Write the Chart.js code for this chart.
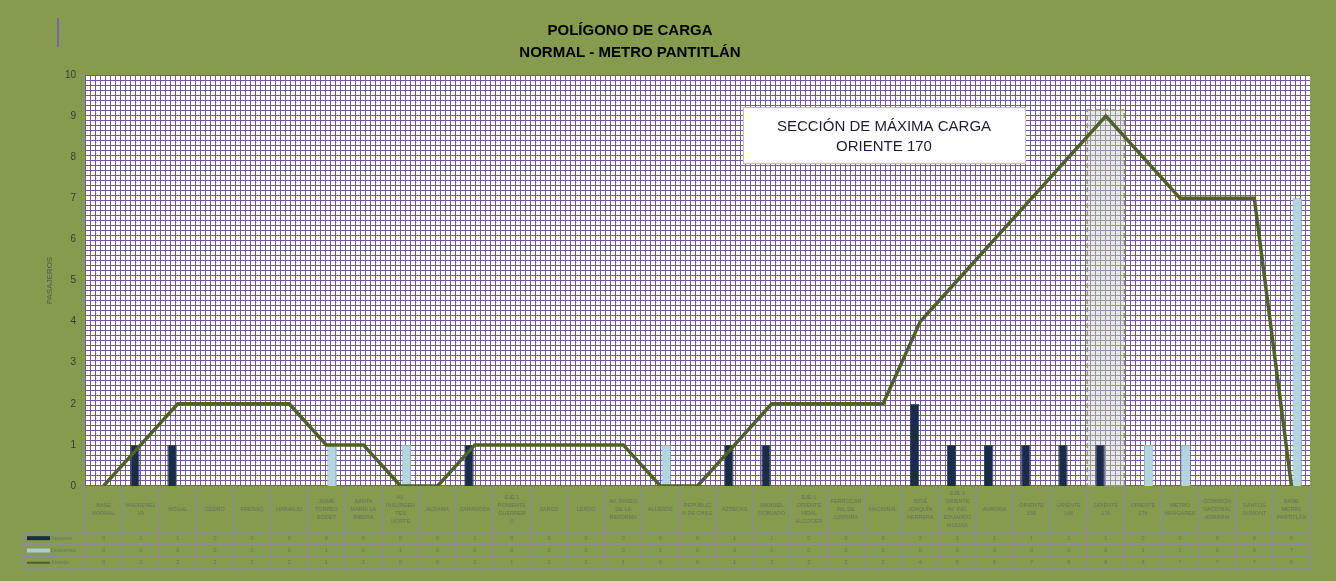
<!DOCTYPE html>
<html>
<head>
<meta charset="utf-8">
<script src="https://cdn.jsdelivr.net/npm/chart.js@4.4.1/dist/chart.umd.min.js"></script>
<style>
  html, body { margin: 0; padding: 0; background: #859c4f; }
  #wrap { width: 1336px; height: 581px; }
</style>
</head>
<body>
<div id="wrap"><canvas id="poligono" width="1336" height="581"></canvas></div>
<script>
// paradas de la ruta
const estaciones = [
  'BASE NORMAL', 'MADRESELVA', 'NOGAL', 'CEDRO', 'FRESNO', 'NARANJO',
  'JAIME TORRES BODET', 'SANTA MARÍA LA RIBERA', 'AV. INSURGENTES NORTE', 'ALDAMA',
  'ZARAGOZA', 'EJE 1 PONIENTE GUERRERO', 'ZARCO', 'LERDO', 'AV. PASEO DE LA REFORMA',
  'ALLENDE', 'REPÚBLICA DE CHILE', 'AZTECAS', 'MANUEL DOBLADO',
  'EJE 1 ORIENTE VIDAL ALCOCER', 'FERROCARRIL DE CINTURA', 'NACIONAL',
  'JOSÉ JOAQUÍN HERRERA', 'EJE 3 ORIENTE AV. ING. EDUARDO MOLINA', 'AURORA',
  'ORIENTE 158', 'ORIENTE 166', 'ORIENTE 170', 'ORIENTE 176', 'METRO HANGARES',
  'COMISIÓN NACIONAL AGRARIA', 'SANTOS DUMONT', 'BASE METRO PANTITLÁN'
];
const ascenso  = [0,1,1,0,0,0,0,0,0,0,1,0,0,0,0,0,0,1,1,0,0,0,2,1,1,1,1,1,0,0,0,0,0];
const descenso = [0,0,0,0,0,0,1,0,1,0,0,0,0,0,0,1,0,0,0,0,0,0,0,0,0,0,0,0,1,1,0,0,7];
const abordo   = [0,1,2,2,2,2,1,1,0,0,1,1,1,1,1,0,0,1,2,2,2,2,4,5,6,7,8,9,8,7,7,7,0];
const yMax = 10;
const titulo = ['POLÍGONO DE CARGA', 'NORMAL - METRO PANTITLÁN'];
const nota = ['SECCIÓN DE MÁXIMA CARGA', 'ORIENTE 170'];

const VERDE = '#859c4f';
const TEXTO_TABLA = '#6a7360';
const filas = [
  { nombre: 'Ascenso', datos: ascenso, color: '#1b2c4b', grueso: 4 },
  { nombre: 'Descenso', datos: descenso, color: '#a9cbd8', grueso: 4 },
  { nombre: 'Abordo', datos: abordo, color: '#4e6228', grueso: 2 }
];

// cuadricula morada del fondo del area de trazado
function patronCuadricula(ctx) {
  const c = document.createElement('canvas');
  c.width = 5; c.height = 5;
  const g = c.getContext('2d');
  g.fillStyle = '#ffffff';
  g.fillRect(0, 0, 5, 5);
  g.fillStyle = '#76599a';
  g.fillRect(0, 0, 5, 1);
  g.fillRect(0, 0, 1, 5);
  return ctx.createPattern(c, 'repeat');
}

function partirTexto(ctx, texto, ancho) {
  const lineas = [];
  let actual = '';
  texto.split(' ').forEach(pal => {
    const prueba = actual ? actual + ' ' + pal : pal;
    if (ctx.measureText(prueba).width <= ancho) { actual = prueba; return; }
    if (actual) lineas.push(actual);
    actual = '';
    // palabra demasiado larga: cortarla
    for (const ch of pal) {
      if (ctx.measureText(actual + ch).width > ancho && actual) { lineas.push(actual); actual = ch; }
      else actual += ch;
    }
  });
  if (actual) lineas.push(actual);
  return lineas;
}

const fondo = {
  id: 'fondo',
  beforeDraw(chart) {
    const { ctx, chartArea: a } = chart;
    ctx.save();
    ctx.fillStyle = VERDE;
    ctx.fillRect(0, 0, chart.width, chart.height);
    ctx.fillStyle = patronCuadricula(ctx);
    ctx.fillRect(a.left, a.top, a.right - a.left, a.bottom - a.top);
    // marca morada suelta arriba a la izquierda
    ctx.fillStyle = '#7f62b3';
    ctx.fillRect(57, 18, 2, 29);
    // titulo
    ctx.fillStyle = '#000';
    ctx.font = 'bold 15px "Liberation Sans", Arial, sans-serif';
    ctx.textAlign = 'center';
    ctx.textBaseline = 'middle';
    ctx.fillText(titulo[0], 630, 31);
    ctx.fillText(titulo[1], 630, 53);
    ctx.restore();
  },
  beforeDatasetsDraw(chart) {
    // seccion de maxima carga
    const { ctx, scales: { x, y } } = chart;
    const iMax = abordo.indexOf(Math.max(...abordo));
    const w = x.getPixelForValue(1) - x.getPixelForValue(0);
    const cx = x.getPixelForValue(iMax);
    const top = y.getPixelForValue(abordo[iMax]) - 6;
    const bot = y.getPixelForValue(0);
    ctx.save();
    ctx.fillStyle = 'rgba(200,208,186,0.45)';
    ctx.fillRect(cx - w / 2, top, w, bot - top);
    ctx.strokeStyle = '#8c9a63';
    ctx.lineWidth = 1.5;
    ctx.setLineDash([5, 3]);
    ctx.strokeRect(cx - w / 2, top, w, bot - top);
    ctx.restore();
  },
  afterDraw(chart) {
    const { ctx, chartArea: a, scales: { x } } = chart;
    const n = estaciones.length;
    const w = (a.right - a.left) / n;
    const top = a.bottom, cab = 46, alto = 12.3;
    const izq = 23;
    ctx.save();
    // cuadro de nota
    ctx.fillStyle = '#fff';
    ctx.fillRect(743, 107, 282, 56);
    ctx.strokeStyle = '#bdbdbd';
    ctx.lineWidth = 1;
    ctx.strokeRect(743.5, 107.5, 282, 56);
    ctx.fillStyle = '#1d1d3a';
    ctx.font = '15px "Liberation Sans", Arial, sans-serif';
    ctx.textAlign = 'center';
    ctx.textBaseline = 'middle';
    ctx.fillText(nota[0], 884, 127);
    ctx.fillText(nota[1], 884, 147);

    // tabla de datos
    ctx.strokeStyle = '#8d8d8d';
    ctx.lineWidth = 1.5;
    const fondoTabla = top + cab + alto * filas.length;
    for (let i = 0; i <= n; i++) {
      const px = a.left + i * w;
      ctx.beginPath(); ctx.moveTo(px, top); ctx.lineTo(px, fondoTabla); ctx.stroke();
    }
    ctx.beginPath(); ctx.moveTo(izq, top + cab); ctx.lineTo(izq, fondoTabla); ctx.stroke();
    for (let r = 0; r <= filas.length; r++) {
      const py = top + cab + r * alto;
      ctx.beginPath(); ctx.moveTo(izq, py); ctx.lineTo(a.right, py); ctx.stroke();
    }
    ctx.fillStyle = TEXTO_TABLA;
    ctx.font = '5.5px "Liberation Sans", Arial, sans-serif';
    estaciones.forEach((nom, i) => {
      const cx = x.getPixelForValue(i);
      const lineas = partirTexto(ctx, nom, w - 6);
      const y0 = top + cab / 2 - (lineas.length - 1) * 4;
      lineas.forEach((l, k) => ctx.fillText(l, cx, y0 + k * 8));
      filas.forEach((f, r) => ctx.fillText(String(f.datos[i]), cx, top + cab + r * alto + alto / 2));
    });
    filas.forEach((f, r) => {
      const py = top + cab + r * alto + alto / 2;
      ctx.strokeStyle = f.color;
      ctx.lineWidth = f.grueso;
      ctx.beginPath(); ctx.moveTo(27, py); ctx.lineTo(50, py); ctx.stroke();
      ctx.fillStyle = TEXTO_TABLA;
      ctx.textAlign = 'left';
      ctx.fillText(f.nombre, 51, py);
    });
    ctx.restore();
  }
};

new Chart(document.getElementById('poligono'), {
  type: 'bar',
  data: {
    labels: estaciones,
    datasets: [
      {
        type: 'line',
        label: 'Abordo',
        data: abordo,
        borderColor: '#4e6228',
        borderWidth: 3.5,
        pointRadius: 0,
        tension: 0,
        order: 0
      },
      {
        label: 'Ascenso',
        data: ascenso,
        backgroundColor: '#1b2c4b',
        borderColor: '#31466b',
        borderWidth: 1,
        categoryPercentage: 0.62,
        barPercentage: 0.82,
        order: 1
      },
      {
        label: 'Descenso',
        data: descenso,
        backgroundColor: '#b3d5df',
        borderColor: '#8db1bf',
        borderWidth: 1,
        categoryPercentage: 0.62,
        barPercentage: 0.82,
        order: 1
      }
    ]
  },
  options: {
    responsive: false,
    animation: false,
    layout: { padding: { left: 45, right: 26, top: 75, bottom: 95 } },
    plugins: {
      legend: { display: false },
      tooltip: { enabled: false }
    },
    scales: {
      x: { display: false },
      y: {
        min: 0,
        max: yMax,
        afterFit(s) { s.width = 40; },
        grid: { display: false, drawTicks: false },
        border: { display: false },
        ticks: { stepSize: 1, color: '#3a3a3a', padding: 9, font: { size: 10, family: '"Liberation Sans", Arial' } },
        title: { display: true, text: 'PASAJEROS', color: '#555', font: { size: 8, family: '"Liberation Sans", Arial' }, padding: 0 }
      }
    }
  },
  plugins: [fondo]
});
</script>
</body>
</html>
